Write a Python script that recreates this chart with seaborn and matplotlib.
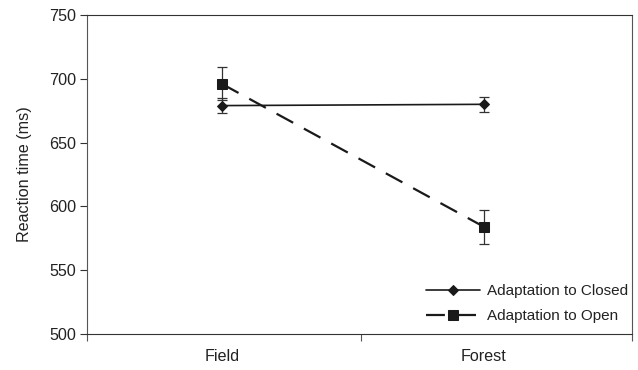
import matplotlib
matplotlib.use("Agg")
import matplotlib.pyplot as plt
import pandas as pd
import seaborn as sns

# data
scenes = ["Field", "Forest"]
closed_rt = [679, 680]
closed_err = [6, 6]
open_rt = [696, 584]
open_err = [13, 13.5]
conditions = ["Adaptation to Closed", "Adaptation to Open"]

sns.set_style("white", {"xtick.bottom": True, "ytick.left": True})
plt.rcParams["font.family"] = ["Liberation Sans", "DejaVu Sans"]

df = pd.DataFrame({
    "scene": scenes * 2,
    "x": list(range(len(scenes))) * 2,
    "rt": closed_rt + open_rt,
    "err": closed_err + open_err,
    "condition": [conditions[0]] * 2 + [conditions[1]] * 2,
})

fig = plt.figure(figsize=(6.38, 3.70), dpi=100)
ax = fig.add_axes([87 / 638, 1 - 334 / 370, (632 - 87) / 638, (334 - 15) / 370])

# error bars first so the markers sit on top
for cond in conditions:
    sub = df[df["condition"] == cond]
    ax.errorbar(sub["x"], sub["rt"], yerr=sub["err"], fmt="none",
                ecolor="#333333", elinewidth=0.9, capsize=3.5, capthick=0.9, zorder=2)

sns.lineplot(data=df, x="x", y="rt", hue="condition", style="condition",
             palette=["#1a1a1a", "#1a1a1a"], markers=["D", "s"],
             dashes=[(None, None), (8.5, 5.5)], ax=ax, zorder=3,
             markeredgecolor="#1a1a1a")
for line in ax.get_lines():
    if line.get_marker() == "D":
        line.set_linewidth(1.2)
        line.set_markersize(5.5)
    elif line.get_marker() == "s":
        line.set_linewidth(1.6)
        line.set_markersize(7)

fs = 11.6
ax.set_ylim(500, 750)
ax.set_yticks([500, 550, 600, 650, 700, 750])
ax.set_xlim(-0.515, 1.565)
ax.set_xticks([-0.515, 0.53, 1.565])
ax.set_xticklabels([])
ax.set_xticks([0, 1], minor=True)
ax.set_xticklabels(scenes, minor=True)
ax.tick_params(axis="x", which="minor", length=0, pad=11, labelsize=fs,
               labelcolor="#222222")
ax.tick_params(axis="x", which="major", direction="out", length=5, width=0.8,
               color="#555555")
ax.tick_params(axis="y", direction="out", length=5, width=0.8, color="#333333",
               labelsize=fs, labelcolor="#222222", pad=3)
ax.set_xlabel("")
ax.set_ylabel("Reaction time (ms)", fontsize=fs, labelpad=12, color="#222222")
for s in ax.spines.values():
    s.set_visible(True)
    s.set_linewidth(0.8)
    s.set_color("#333333")
ax.spines["left"].set_color("#555555")
ax.spines["right"].set_color("#555555")

handles, labels = ax.get_legend_handles_labels()
leg = ax.legend(handles, labels, loc="lower right", frameon=False, fontsize=11,
                handlelength=3.5, handletextpad=0.45, labelspacing=0.75,
                bbox_to_anchor=(1.012, 0.0), borderaxespad=0.3)
for h in leg.legend_handles:
    h.set_color("#1a1a1a")
for t in leg.get_texts():
    t.set_color("#222222")

fig.savefig("out.png", dpi=100)
